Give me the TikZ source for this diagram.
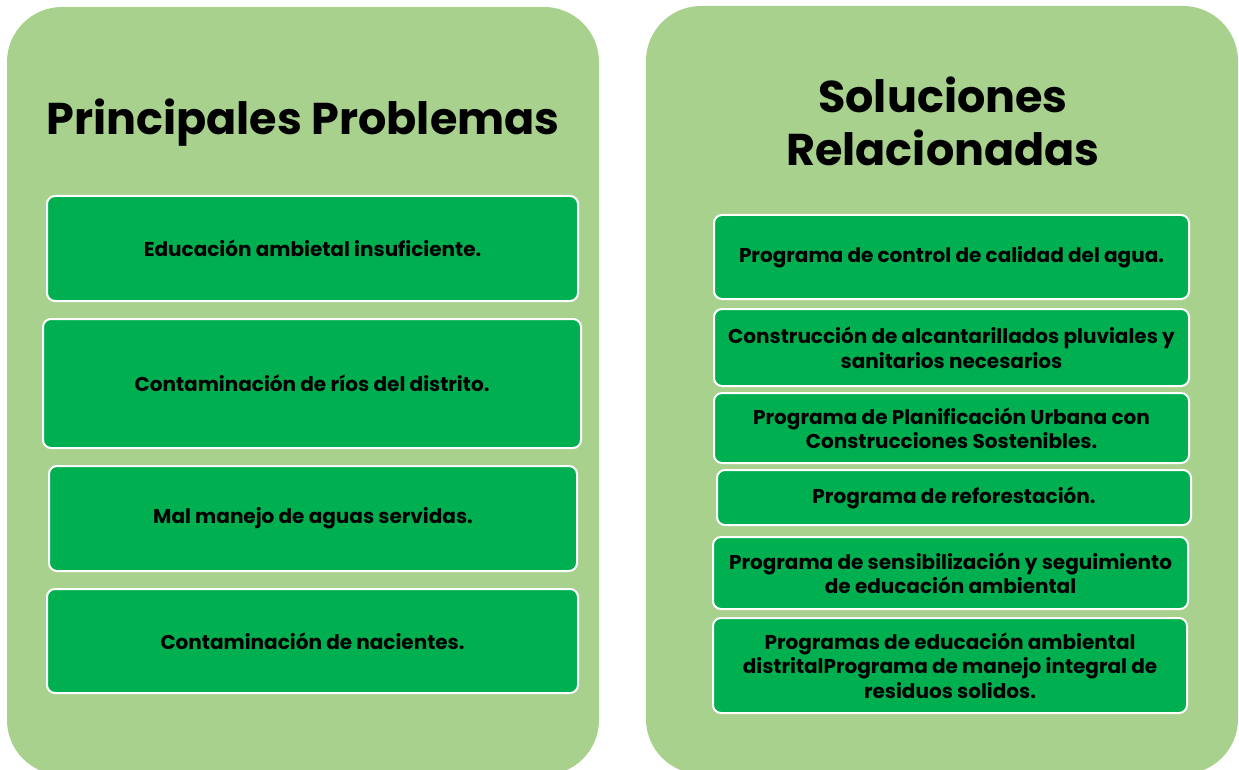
\documentclass[tikz,border=0pt]{standalone}
\usepackage{fontspec}
\setmainfont{Poppins}
\definecolor{panelgreen}{HTML}{A9D18E}
\definecolor{boxgreen}{HTML}{00B050}
\begin{document}
\begin{tikzpicture}[x=1pt,y=-1pt,
  panel/.style={fill=panelgreen, draw=none, rounded corners=55pt},
  itembox/.style={fill=boxgreen, draw=white, line width=2pt, rounded corners=8pt},
  itemtext/.style={align=center, font=\fontsize{20}{24.5}\selectfont\bfseries, text=black, inner sep=0pt},
  titletext/.style={align=center, font=\fontsize{44.5}{53}\selectfont\bfseries, text=black, inner sep=0pt}]
\useasboundingbox (0,0) rectangle (1239,770);
\begin{scope}
\clip (0,0) rectangle (1239,770);
\path[panel] (7,7) rectangle (599,775);
\path[panel] (646,6) rectangle (1238,774);
\end{scope}
\node[titletext] (tl) at (303,123) {Principales Problemas};
\node[titletext] (tr) at (943,121) {Soluciones\\Relacionadas};
% left boxes
\draw[itembox] (47,196) rectangle (578,301);
\node[itemtext] (l1) at (312.5,248.5) {Educación ambietal insuficiente.};
\draw[itembox] (43,319) rectangle (581,448);
\node[itemtext] (l2) at (312,383.5) {Contaminación de ríos del distrito.};
\draw[itembox] (49,466) rectangle (577,571);
\node[itemtext] (l3) at (313,518.5) {Mal manejo de aguas servidas.};
\draw[itembox] (47,589) rectangle (578,693);
\node[itemtext] (l4) at (312.5,641) {Contaminación de nacientes.};
% right boxes
\draw[itembox] (714,215) rectangle (1189,299);
\node[itemtext] (r1) at (951.5,257) {Programa de control de calidad del agua.};
\draw[itembox] (714,309) rectangle (1189,386);
\node[itemtext] (r2) at (951.5,347.5) {Construcción de alcantarillados pluviales y\\sanitarios necesarios};
\draw[itembox] (714,393) rectangle (1189,463);
\node[itemtext] (r3) at (951.5,428) {Programa de Planificación Urbana con\\Construcciones Sostenibles.};
\draw[itembox] (717,470) rectangle (1191,525);
\node[itemtext] (r4) at (954,497.5) {Programa de reforestación.};
\draw[itembox] (713,537) rectangle (1188,609);
\node[itemtext] (r5) at (950.5,573) {Programa de sensibilización y seguimiento\\de educación ambiental};
\draw[itembox] (713,618) rectangle (1187,713);
\node[itemtext] (r6) at (950,665.5) {Programas de educación ambiental\\distritalPrograma de manejo integral de\\residuos solidos.};
\end{tikzpicture}
\end{document}
